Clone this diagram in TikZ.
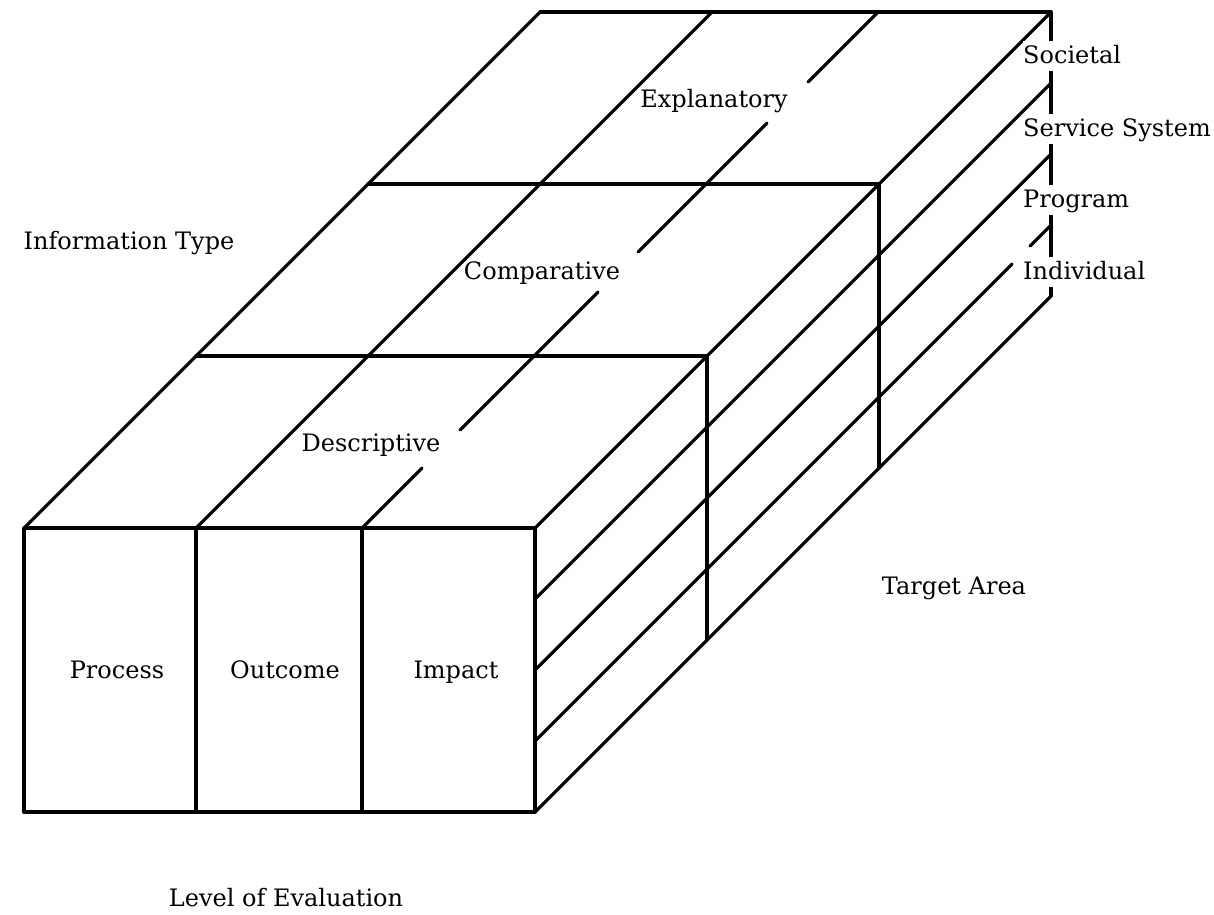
\documentclass[tikz,border=0pt]{standalone}
\usepackage{fontspec}
\setmainfont{DejaVu Serif}
\begin{document}
\begin{tikzpicture}[x=1pt,y=-1pt,
  edge/.style={line width=3.2pt, line cap=round, line join=round},
  frontline/.style={line width=3.8pt, line cap=round, line join=round},
  lbl/.style={font=\fontsize{24}{28}\selectfont, inner sep=0pt, anchor=base},
  tag/.style={font=\fontsize{24}{28}\selectfont, fill=white, anchor=base west, inner xsep=0pt, inner ysep=4pt, text height=18pt, text depth=4pt}]
\useasboundingbox[fill=white] (0,0) rectangle (1214,914);
% top face: depth lines
\draw[edge] (24,528) -- (540,12);
\draw[edge] (196,528) -- (712,12);
\draw[edge] (362,528) -- (422,468) (460,430) -- (598,292) (638,252) -- (767,123) (808,82) -- (878,12);
\draw[edge] (535,528) -- (1051,12);
% top face: cross lines
\draw[edge] (196,356) -- (707,356);
\draw[edge] (368,184) -- (879,184);
\draw[edge] (540,12) -- (1051,12);
% right face: stripes
\draw[edge] (535,599) -- (1051,83);
\draw[edge] (535,670) -- (1051,154);
\draw[edge] (535,741) -- (1012,264) (1030,246) -- (1051,225);
\draw[edge] (535,812) -- (1051,296);
% right face: verticals
\draw[edge] (707,356) -- (707,640);
\draw[edge] (879,184) -- (879,468);
\draw[edge] (1051,12) -- (1051,296);
% front face
\draw[frontline] (24,528) rectangle (535,812);
\draw[frontline] (196,528) -- (196,812) (362,528) -- (362,812);
% labels
\node[lbl] (expl) at (714,107) {Explanatory};
\node[lbl] (comp) at (542,279) {Comparative};
\node[lbl] (desc) at (371,451) {Descriptive};
\node[lbl] (proc) at (117,678) {Process};
\node[lbl] (outc) at (285,678) {Outcome};
\node[lbl] (impa) at (456,678) {Impact};
\node[lbl] (info) at (129,249) {Information Type};
\node[lbl] (targ) at (954,594) {Target Area};
\node[lbl] (levl) at (286,906) {Level of Evaluation};
\node[tag] (soci) at (1023,63) {Societal};
\node[tag] (serv) at (1023,136) {Service System};
\node[tag] (prog) at (1023,207) {Program};
\node[tag] (indi) at (1023,279) {Individual};
\end{tikzpicture}
\end{document}
